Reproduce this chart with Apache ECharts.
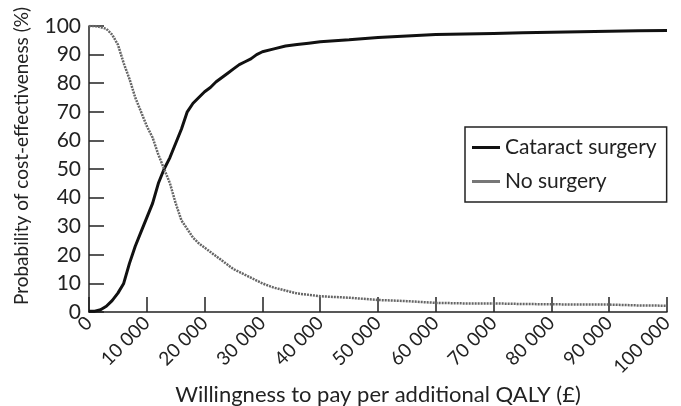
<!DOCTYPE html>
<html>
<head>
<meta charset="utf-8">
<script src="https://cdn.jsdelivr.net/npm/echarts@6/dist/echarts.min.js"></script>
<style>
  html, body { margin: 0; padding: 0; background: #fff; }
  #main { width: 681px; height: 406px; }
</style>
</head>
<body>
<div id="main"></div>
<script>
// willingness to pay (£) sample points
const wtp = [0, 1000, 2000, 3000, 4000, 5000, 6000, 7000, 8000, 9000,
  10000, 11000, 12000, 13000, 14000, 15000, 16000, 17000, 18000, 19000,
  20000, 21000, 22000, 23000, 24000, 25000, 26000, 27000, 28000, 29000,
  30000, 32000, 34000, 36000, 38000, 40000, 45000, 50000, 55000, 60000,
  65000, 70000, 75000, 80000, 85000, 90000, 95000, 100000];

// probability of cost-effectiveness (%)
const cataract = [0.3, 0.3, 0.8, 2, 4, 6.6, 10, 17, 23, 28,
  33, 38, 45, 50, 54, 59, 64, 70, 73, 75,
  77, 78.5, 80.5, 82, 83.5, 85, 86.5, 87.5, 88.5, 90,
  91, 92, 93, 93.5, 94, 94.5, 95.2, 96, 96.5, 97,
  97.2, 97.4, 97.6, 97.8, 98, 98.2, 98.3, 98.4];

const noSurgery = [100, 100, 99.6, 99, 97, 93.5, 87, 81.5, 75, 70,
  65, 61, 55, 50, 45, 38, 32, 29, 26, 24,
  22.5, 21, 19.5, 18, 16.5, 15, 14, 13, 12, 11,
  10, 8.5, 7.5, 6.5, 6, 5.5, 5, 4.2, 3.8, 3.2,
  3, 3, 2.8, 2.7, 2.6, 2.6, 2.3, 2.2];

const yTicks = [0, 10, 20, 30, 40, 50, 60, 70, 80, 90, 100];

const FONT = 'Lato, "Noto Sans", sans-serif';

function fmtThousands(v) {
    if (v === 0) return '0';
    return String(v).replace(/\B(?=(\d{3})+(?!\d))/g, ' ');
}

const chart = echarts.init(document.getElementById('main'));

chart.setOption({
    animation: false,
    backgroundColor: '#fff',
    grid: { left: 89, right: 14, top: 26, bottom: 94, outerBoundsMode: 'none' },
    legend: {
        orient: 'vertical',
        left: 465,
        top: 127,
        padding: [10, 10, 10, 7],
        itemGap: 13,
        itemWidth: 28,
        itemHeight: 3,
        icon: 'rect',
        borderColor: '#222',
        borderWidth: 1.5,
        borderRadius: 0,
        textStyle: { fontFamily: FONT, fontSize: 21, color: '#222' },
        data: ['Cataract surgery', 'No surgery']
    },
    xAxis: {
        type: 'value',
        min: 0,
        max: 100000,
        interval: 10000,
        name: 'Willingness to pay per additional QALY (£)',
        nameLocation: 'middle',
        nameGap: 60,
        nameTextStyle: { fontFamily: FONT, fontSize: 22, color: '#222' },
        axisLine: { lineStyle: { color: '#222', width: 1.5 } },
        axisTick: { inside: true, length: 15, lineStyle: { color: '#222', width: 1.5 } },
        axisLabel: {
            rotate: 45,
            margin: 8,
            fontFamily: FONT,
            fontSize: 19,
            color: '#222',
            formatter: fmtThousands
        },
        splitLine: { show: false }
    },
    yAxis: {
        type: 'value',
        min: 0,
        max: 100,
        interval: 10,
        name: 'Probability of cost-effectiveness (%)',
        nameLocation: 'middle',
        nameGap: 58,
        nameTextStyle: { fontFamily: FONT, fontSize: 19, color: '#222', padding: [0, 0, 0, 26] },
        axisLine: { show: true, lineStyle: { color: '#222', width: 1.5 } },
        axisTick: { show: true, inside: true, length: 15, lineStyle: { color: '#222', width: 1.5 } },
        axisLabel: {
            margin: 8,
            fontFamily: FONT,
            fontSize: 21,
            color: '#222',
            customValues: yTicks
        },
        splitLine: { show: false }
    },
    series: [
        {
            name: 'Cataract surgery',
            type: 'line',
            symbol: 'none',
            data: wtp.map((x, i) => [x, cataract[i]]),
            lineStyle: { color: '#111', width: 3 },
            itemStyle: { color: '#111' }
        },
        {
            name: 'No surgery',
            type: 'line',
            symbol: 'none',
            data: wtp.map((x, i) => [x, noSurgery[i]]),
            lineStyle: { color: '#666', width: 2.5, type: [2, 1] },
            itemStyle: { color: '#777' }
        }
    ]
});
</script>
</body>
</html>
